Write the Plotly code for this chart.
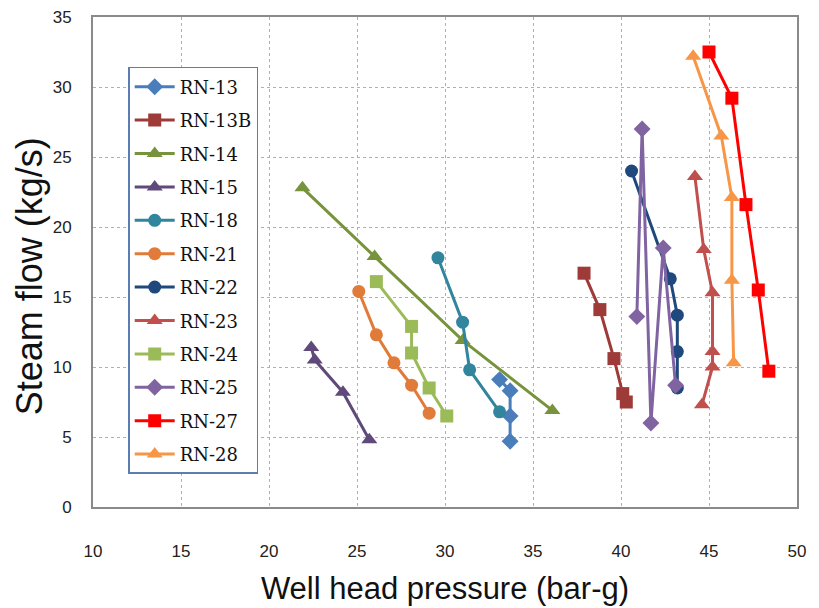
import plotly.graph_objects as go

names = ["RN-13", "RN-13B", "RN-14", "RN-15", "RN-18", "RN-21",
         "RN-22", "RN-23", "RN-24", "RN-25", "RN-27", "RN-28"]

rn13_x = [33.1, 33.7, 33.7, 33.7]
rn13_y = [9.1, 8.3, 6.5, 4.7]
rn13b_x = [37.9, 38.8, 39.6, 40.1, 40.3]
rn13b_y = [16.7, 14.1, 10.6, 8.1, 7.5]
rn14_x = [21.9, 26.0, 31.0, 36.1]
rn14_y = [22.8, 17.9, 11.9, 6.9]
rn15_x = [22.4, 22.6, 24.2, 25.7]
rn15_y = [11.4, 10.5, 8.2, 4.8]
rn18_x = [29.6, 31.0, 31.4, 33.1]
rn18_y = [17.8, 13.2, 9.8, 6.8]
rn21_x = [25.1, 26.1, 27.1, 28.1, 29.1]
rn21_y = [15.4, 12.3, 10.3, 8.7, 6.7]
rn22_x = [40.6, 42.8, 43.2, 43.2, 43.2]
rn22_y = [24.0, 16.3, 13.7, 11.1, 8.5]
rn23_x = [44.2, 44.7, 45.2, 45.2, 45.2, 44.6]
rn23_y = [23.6, 18.4, 15.3, 11.1, 10.0, 7.3]
rn24_x = [26.1, 28.1, 28.1, 29.1, 30.1]
rn24_y = [16.1, 12.9, 11.0, 8.5, 6.5]
rn25_x = [40.9, 41.2, 41.7, 42.4, 43.1]
rn25_y = [13.6, 27.0, 6.0, 18.5, 8.7]
rn27_x = [45.0, 46.3, 47.1, 47.8, 48.4]
rn27_y = [32.5, 29.2, 21.6, 15.5, 9.7]
rn28_x = [44.1, 45.7, 46.3, 46.3, 46.4]
rn28_y = [32.2, 26.5, 22.1, 16.2, 10.3]

xs = [rn13_x, rn13b_x, rn14_x, rn15_x, rn18_x, rn21_x,
      rn22_x, rn23_x, rn24_x, rn25_x, rn27_x, rn28_x]
ys = [rn13_y, rn13b_y, rn14_y, rn15_y, rn18_y, rn21_y,
      rn22_y, rn23_y, rn24_y, rn25_y, rn27_y, rn28_y]

colors = ["#4A7EBB", "#9E3B38", "#77933C", "#604A7B", "#31859C", "#E07B39",
          "#1F497D", "#C0504D", "#9BBB59", "#8064A2", "#FF0000", "#F79646"]
symbols = ["diamond", "square", "triangle-up", "triangle-up", "circle", "circle",
           "circle", "triangle-up", "square", "diamond", "square", "triangle-up"]
sizes = [13, 13, 14, 14, 13, 13, 13, 14, 13, 13, 13, 14]

fig = go.Figure()
for n, x, y, c, s, sz in zip(names, xs, ys, colors, symbols, sizes):
    fig.add_trace(go.Scatter(
        x=x, y=y, name=n, mode="lines+markers", legendgroup=n,
        line=dict(color=c, width=3),
        marker=dict(color=c, symbol=s, size=sz),
    ))

grid = dict(showgrid=True, gridcolor="#b0b0b0", griddash="dot", gridwidth=1)
fig.update_layout(
    width=811, height=600,
    margin=dict(l=85, r=22, t=9, b=101, autoexpand=False),
    paper_bgcolor="white", plot_bgcolor="white",
    font=dict(family="Liberation Sans Narrow, Liberation Sans, Arial", size=17, color="#222"),
    xaxis=dict(range=[10, 50], dtick=5, tick0=10, **grid,
               showline=True, linecolor="#8a8a8a", linewidth=2, mirror=True,
               zeroline=False, ticks="", ticklabelstandoff=28, ticklabeloverflow="allow",
               title=dict(text="Well head pressure (bar-g)", standoff=17,
                          font=dict(family="Liberation Sans, Arial", size=31, color="#111"))),
    yaxis=dict(range=[0, 35], dtick=5, **grid,
               showline=True, linecolor="#8a8a8a", linewidth=2, mirror=True,
               zeroline=False, ticks="", ticklabelstandoff=16, ticklabeloverflow="allow"),
    legend=dict(x=0.05, y=0.898, xanchor="left", yanchor="top",
                bgcolor="white", bordercolor="#5B7DB1", borderwidth=1.5,
                font=dict(family="DejaVu Serif, Liberation Serif", size=18, color="#111"),
                tracegroupgap=7, itemwidth=40),
    showlegend=True,
    annotations=[dict(text="Steam flow (kg/s)", textangle=-90, showarrow=False,
                      xref="paper", yref="paper", x=-0.0909, y=0.471,
                      xanchor="center", yanchor="middle",
                      font=dict(family="Liberation Sans, Arial", size=36, color="#111"))],
)

fig.write_html("out.html")
